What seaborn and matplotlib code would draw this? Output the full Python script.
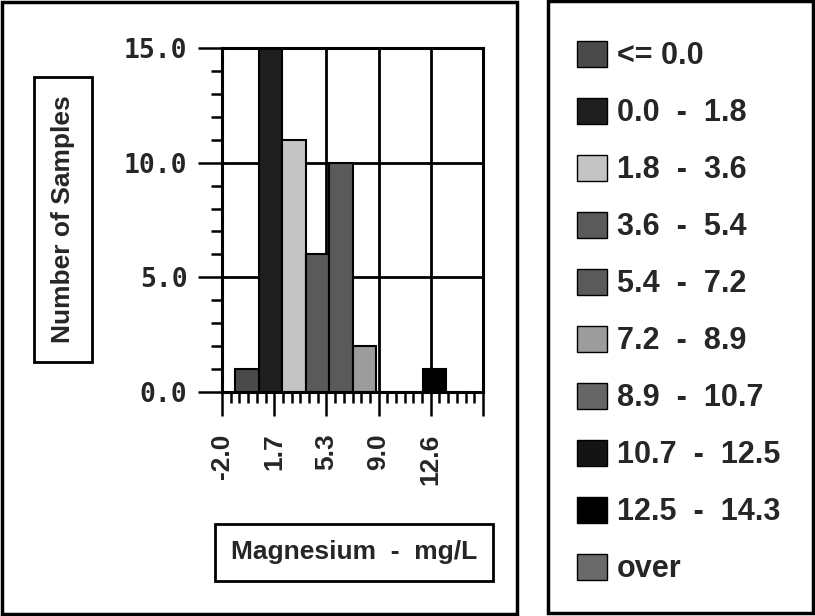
import matplotlib
matplotlib.use("Agg")
import matplotlib.pyplot as plt
from matplotlib.patches import Patch, Rectangle
from matplotlib.ticker import AutoMinorLocator
import pandas as pd
import seaborn as sns

# ---- data ----
bin_labels = ["<= 0.0", "0.0  -  1.8", "1.8  -  3.6", "3.6  -  5.4", "5.4  -  7.2",
              "7.2  -  8.9", "8.9  -  10.7", "10.7  -  12.5", "12.5  -  14.3", "over"]
counts = [1, 15, 11, 6, 10, 2, 0, 0, 1, 0]
shades = ["#4a4a4a", "#1e1e1e", "#c4c4c4", "#5a5a5a", "#5a5a5a",
          "#9c9c9c", "#666666", "#141414", "#000000", "#6a6a6a"]
x_ticks = [-2.0, 1.65, 5.3, 8.95, 12.6, 16.25]
x_ticklabels = ["-2.0", "1.7", "5.3", "9.0", "12.6", ""]
y_ticks = [0, 5, 10, 15]
y_ticklabels = ["0.0", "5.0", "10.0", "15.0"]

# bars sit on their own grid inside the axis (as in the original chart)
bin_start = -1.09
bin_width = 1.643
df = pd.DataFrame({
    "bin": bin_labels,
    "count": counts,
    "center": [bin_start + (i + 0.5) * bin_width for i in range(len(counts))],
})

sns.set_style("white")
plt.rcParams["font.family"] = ["Liberation Sans", "DejaVu Sans"]
plt.rcParams["font.weight"] = "bold"

W, H = 815, 616
fig = plt.figure(figsize=(W / 100, H / 100), dpi=100)


def px_box(x0, y0, x1, y1):
    # pixel box (top-left origin) -> figure fraction rect
    return [x0 / W, 1 - y1 / H, (x1 - x0) / W, (y1 - y0) / H]


ax = fig.add_axes(px_box(222, 48, 483, 392))

sns.barplot(data=df, x="center", y="count", hue="bin", hue_order=bin_labels,
            palette=dict(zip(bin_labels, shades)), native_scale=True, width=1.0,
            dodge=False, saturation=1, errorbar=None, legend=False,
            edgecolor="black", linewidth=1.5, ax=ax)

ax.set_xlim(-2.0, 16.25)
ax.set_ylim(0, 15)
ax.set_xticks(x_ticks)
ax.set_xticklabels(x_ticklabels, rotation=90, fontsize=19, fontweight="bold", va="top")
ax.set_yticks(y_ticks)
ax.set_yticklabels(y_ticklabels, fontsize=19, fontweight="bold", family="DejaVu Sans Mono")
ax.xaxis.set_minor_locator(AutoMinorLocator(6))
ax.yaxis.set_minor_locator(AutoMinorLocator(5))
ax.tick_params(axis="both", which="both", bottom=True, left=True, top=False,
               right=False, direction="out", color="black", width=1.8)
ax.tick_params(axis="both", which="major", length=17)
ax.tick_params(axis="both", which="minor", length=8)
ax.tick_params(axis="x", which="major", pad=13)
ax.tick_params(axis="y", which="major", pad=8)

ax.grid(True, which="major", color="black", linewidth=2)
ax.set_axisbelow(True)
for s in ax.spines.values():
    s.set_visible(True)
    s.set_color("black")
    s.set_linewidth(2.2)

ax.set_xlabel("")
ax.set_ylabel("")

# axis titles in their own boxes
fig.text(63 / W, 1 - 219.5 / H, "Number of Samples", rotation=90, ha="center",
         va="center", fontsize=19, fontweight="bold")
fig.text(354 / W, 1 - 552 / H, "Magnesium  -  mg/L", ha="center", va="center",
         fontsize=19, fontweight="bold")

for box, lw in [((34, 77, 92, 362), 2), ((215, 524, 493, 581), 2),
                ((2, 2, 517, 614), 2.5), ((548, 1, 813, 613), 2.5)]:
    x, y, w, h = px_box(*box)
    fig.add_artist(Rectangle((x, y), w, h, transform=fig.transFigure,
                             fill=False, edgecolor="black", linewidth=lw))

# legend panel
handles = [Patch(facecolor=c, edgecolor="black", linewidth=1) for c in shades]
fig.legend(handles, bin_labels, loc="upper left",
           bbox_to_anchor=(577 / W, 1 - 41 / H), frameon=False,
           prop={"size": 22, "weight": "bold"}, handlelength=0.98,
           handleheight=0.92, handletextpad=0.33, labelspacing=0.87,
           borderpad=0, borderaxespad=0)

fig.savefig("out.png", dpi=100)
